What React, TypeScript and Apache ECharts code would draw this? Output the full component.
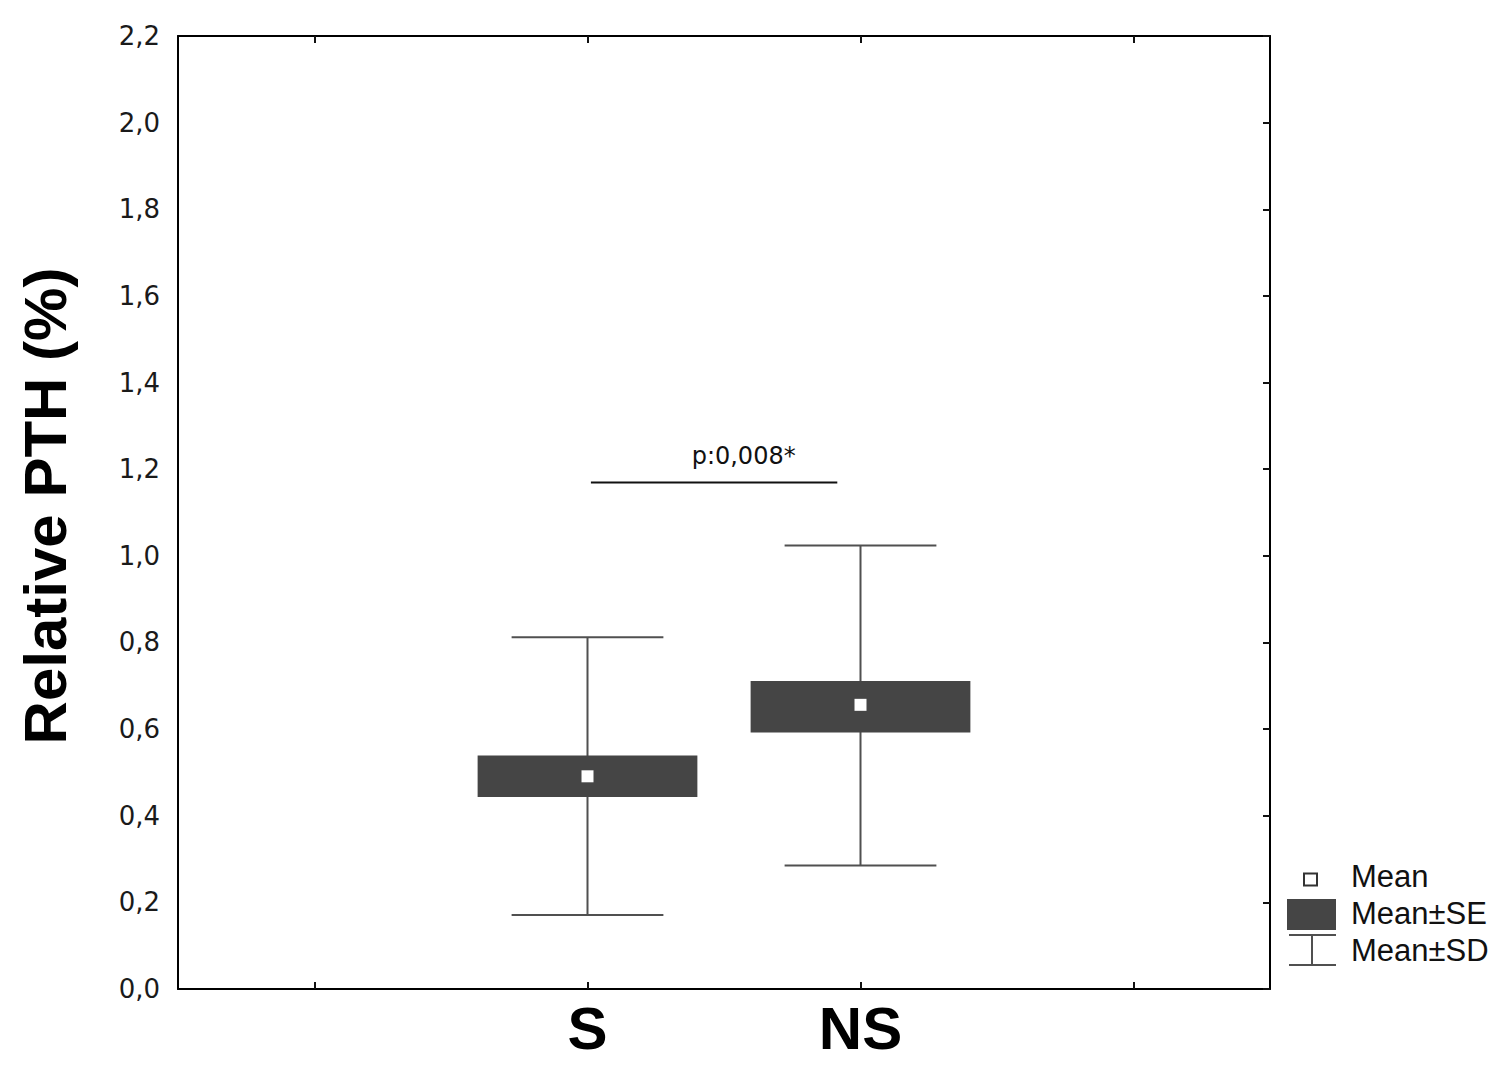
import React, { useEffect, useRef } from "react";
import * as echarts from "echarts";

// ---- data ----
const categories = ["", "S", "NS", ""];
const groupIndex = [1, 2];
const sdLow = [0.171, 0.285];
const seLow = [0.443, 0.592];
const means = [0.491, 0.656];
const seHigh = [0.539, 0.711];
const sdHigh = [0.812, 1.024];
const yMin = 0;
const yMax = 2.2;
const yStep = 0.2;
const sigFrom = 1;
const sigTo = 2;
const sigValue = 1.169;
const sigLabel = "p:0,008*";
const legendLabels = ["Mean", "Mean±SE", "Mean±SD"];
const yTitle = "Relative PTH (%)";

const BOX = "#454545";
const WHISK = "#505050";

export default function App() {
  const ref = useRef<HTMLDivElement>(null);
  useEffect(() => {
    document.body.style.margin = "0";
    const chart = echarts.init(ref.current!, undefined, { renderer: "svg" });
    const data = groupIndex.map((g, i) => [g, sdLow[i], seLow[i], means[i], seHigh[i], sdHigh[i]]);

    const renderBox = (params: any, api: any) => {
      const x = api.value(0);
      const band = api.size([1, 0])[0];
      const cx = api.coord([x, api.value(3)])[0];
      const yv = (k: number) => api.coord([x, api.value(k)])[1];
      const ySdL = yv(1), ySeL = yv(2), yM = yv(3), ySeH = yv(4), ySdH = yv(5);
      const boxW = band * 0.805;
      const capW = band * 0.556;
      const ms = 12;
      const lineStyle = { stroke: WHISK, lineWidth: 2 };
      return {
        type: "group",
        children: [
          { type: "line", shape: { x1: cx, y1: ySdH, x2: cx, y2: ySdL }, style: lineStyle },
          { type: "line", shape: { x1: cx - capW / 2, y1: ySdH, x2: cx + capW / 2, y2: ySdH }, style: lineStyle },
          { type: "line", shape: { x1: cx - capW / 2, y1: ySdL, x2: cx + capW / 2, y2: ySdL }, style: lineStyle },
          { type: "rect", shape: { x: cx - boxW / 2, y: ySeH, width: boxW, height: ySeL - ySeH }, style: { fill: BOX } },
          { type: "rect", shape: { x: cx - ms / 2, y: yM - ms / 2, width: ms, height: ms }, style: { fill: "#ffffff" } },
        ],
      };
    };

    const renderSig = (params: any, api: any) => {
      const band = api.size([1, 0])[0];
      const p1 = api.coord([api.value(0), api.value(2)]);
      const p2 = api.coord([api.value(1), api.value(2)]);
      const x1 = p1[0] + band * 0.0125;
      const x2 = p2[0] - band * 0.085;
      const y = p1[1];
      return {
        type: "group",
        children: [
          { type: "line", shape: { x1, y1: y, x2, y2: y }, style: { stroke: "#111", lineWidth: 2 } },
          {
            type: "text",
            style: {
              text: sigLabel,
              x: x1 + (x2 - x1) * 0.62,
              y: y - 15,
              align: "center",
              verticalAlign: "bottom",
              fontSize: 24,
              fontFamily: "DejaVu Sans",
              fill: "#111",
            },
          },
        ],
      };
    };

    const mkAxisLine = () => ({ show: true, onZero: false, lineStyle: { color: "#000", width: 2 } });
    const tickStyle = { color: "#111", width: 2 };

    const legendX = 1351;
    const legendFont = "31px 'Liberation Sans', Arial, sans-serif";

    chart.setOption({
      animation: false,
      backgroundColor: "#ffffff",
      grid: { left: 178, right: 230, top: 36, bottom: 82, containLabel: false },
      xAxis: [
        {
          type: "category",
          data: categories,
          boundaryGap: true,
          position: "bottom",
          axisLine: mkAxisLine(),
          axisTick: { show: true, inside: true, alignWithLabel: true, interval: 0, length: 7, lineStyle: tickStyle },
          axisLabel: {
            show: true,
            interval: 0,
            margin: 9,
            fontSize: 60,
            fontWeight: "bold",
            fontFamily: "'Liberation Sans', Arial, sans-serif",
            color: "#000",
          },
          splitLine: { show: false },
        },
        {
          type: "category",
          data: categories,
          boundaryGap: true,
          position: "top",
          axisLine: mkAxisLine(),
          axisTick: { show: true, inside: true, alignWithLabel: true, interval: 0, length: 7, lineStyle: tickStyle },
          axisLabel: { show: false },
          splitLine: { show: false },
        },
      ],
      yAxis: [
        {
          type: "value",
          min: yMin,
          max: yMax,
          interval: yStep,
          position: "left",
          axisLine: mkAxisLine(),
          axisTick: { show: false },
          axisLabel: {
            margin: 18,
            fontSize: 26,
            fontFamily: "'DejaVu Sans', sans-serif",
            color: "#1a1a1a",
            formatter: (v: number) => v.toFixed(1).replace(".", ","),
          },
          splitLine: { show: false },
        },
        {
          type: "value",
          min: yMin,
          max: yMax,
          interval: yStep,
          position: "right",
          axisLine: mkAxisLine(),
          axisTick: { show: true, inside: true, length: 7, lineStyle: tickStyle },
          axisLabel: { show: false },
          splitLine: { show: false },
        },
      ],
      series: [
        {
          type: "custom",
          name: "groups",
          xAxisIndex: 0,
          yAxisIndex: 0,
          data,
          encode: { x: 0, y: [1, 2, 3, 4, 5] },
          renderItem: renderBox,
          z: 3,
        },
        {
          type: "custom",
          name: "sig",
          xAxisIndex: 0,
          yAxisIndex: 0,
          data: [[sigFrom, sigTo, sigValue]],
          encode: { x: [0, 1], y: 2 },
          renderItem: renderSig,
          z: 4,
        },
      ],
      graphic: [
        {
          type: "text",
          x: 45,
          y: 506,
          rotation: Math.PI / 2,
          style: {
            text: yTitle,
            font: "bold 60px 'Liberation Sans', Arial, sans-serif",
            fill: "#000",
            align: "center",
            verticalAlign: "middle",
          },
        },
        {
          type: "rect",
          shape: { x: 1304, y: 873.5, width: 13, height: 12 },
          style: { fill: "#fff", stroke: "#333", lineWidth: 2 },
        },
        {
          type: "text",
          x: legendX,
          y: 876,
          style: { text: legendLabels[0], font: legendFont, fill: "#111", align: "left", verticalAlign: "middle" },
        },
        {
          type: "rect",
          shape: { x: 1287, y: 899, width: 49, height: 31 },
          style: { fill: BOX },
        },
        {
          type: "text",
          x: legendX,
          y: 913,
          style: { text: legendLabels[1], font: legendFont, fill: "#111", align: "left", verticalAlign: "middle" },
        },
        { type: "line", shape: { x1: 1289, y1: 935, x2: 1336, y2: 935 }, style: { stroke: WHISK, lineWidth: 2 } },
        { type: "line", shape: { x1: 1312, y1: 935, x2: 1312, y2: 965 }, style: { stroke: WHISK, lineWidth: 2 } },
        { type: "line", shape: { x1: 1289, y1: 965, x2: 1336, y2: 965 }, style: { stroke: WHISK, lineWidth: 2 } },
        {
          type: "text",
          x: legendX,
          y: 950,
          style: { text: legendLabels[2], font: legendFont, fill: "#111", align: "left", verticalAlign: "middle" },
        },
      ],
    });
    return () => chart.dispose();
  }, []);
  return <div ref={ref} style={{ width: 1500, height: 1071 }} />;
}
